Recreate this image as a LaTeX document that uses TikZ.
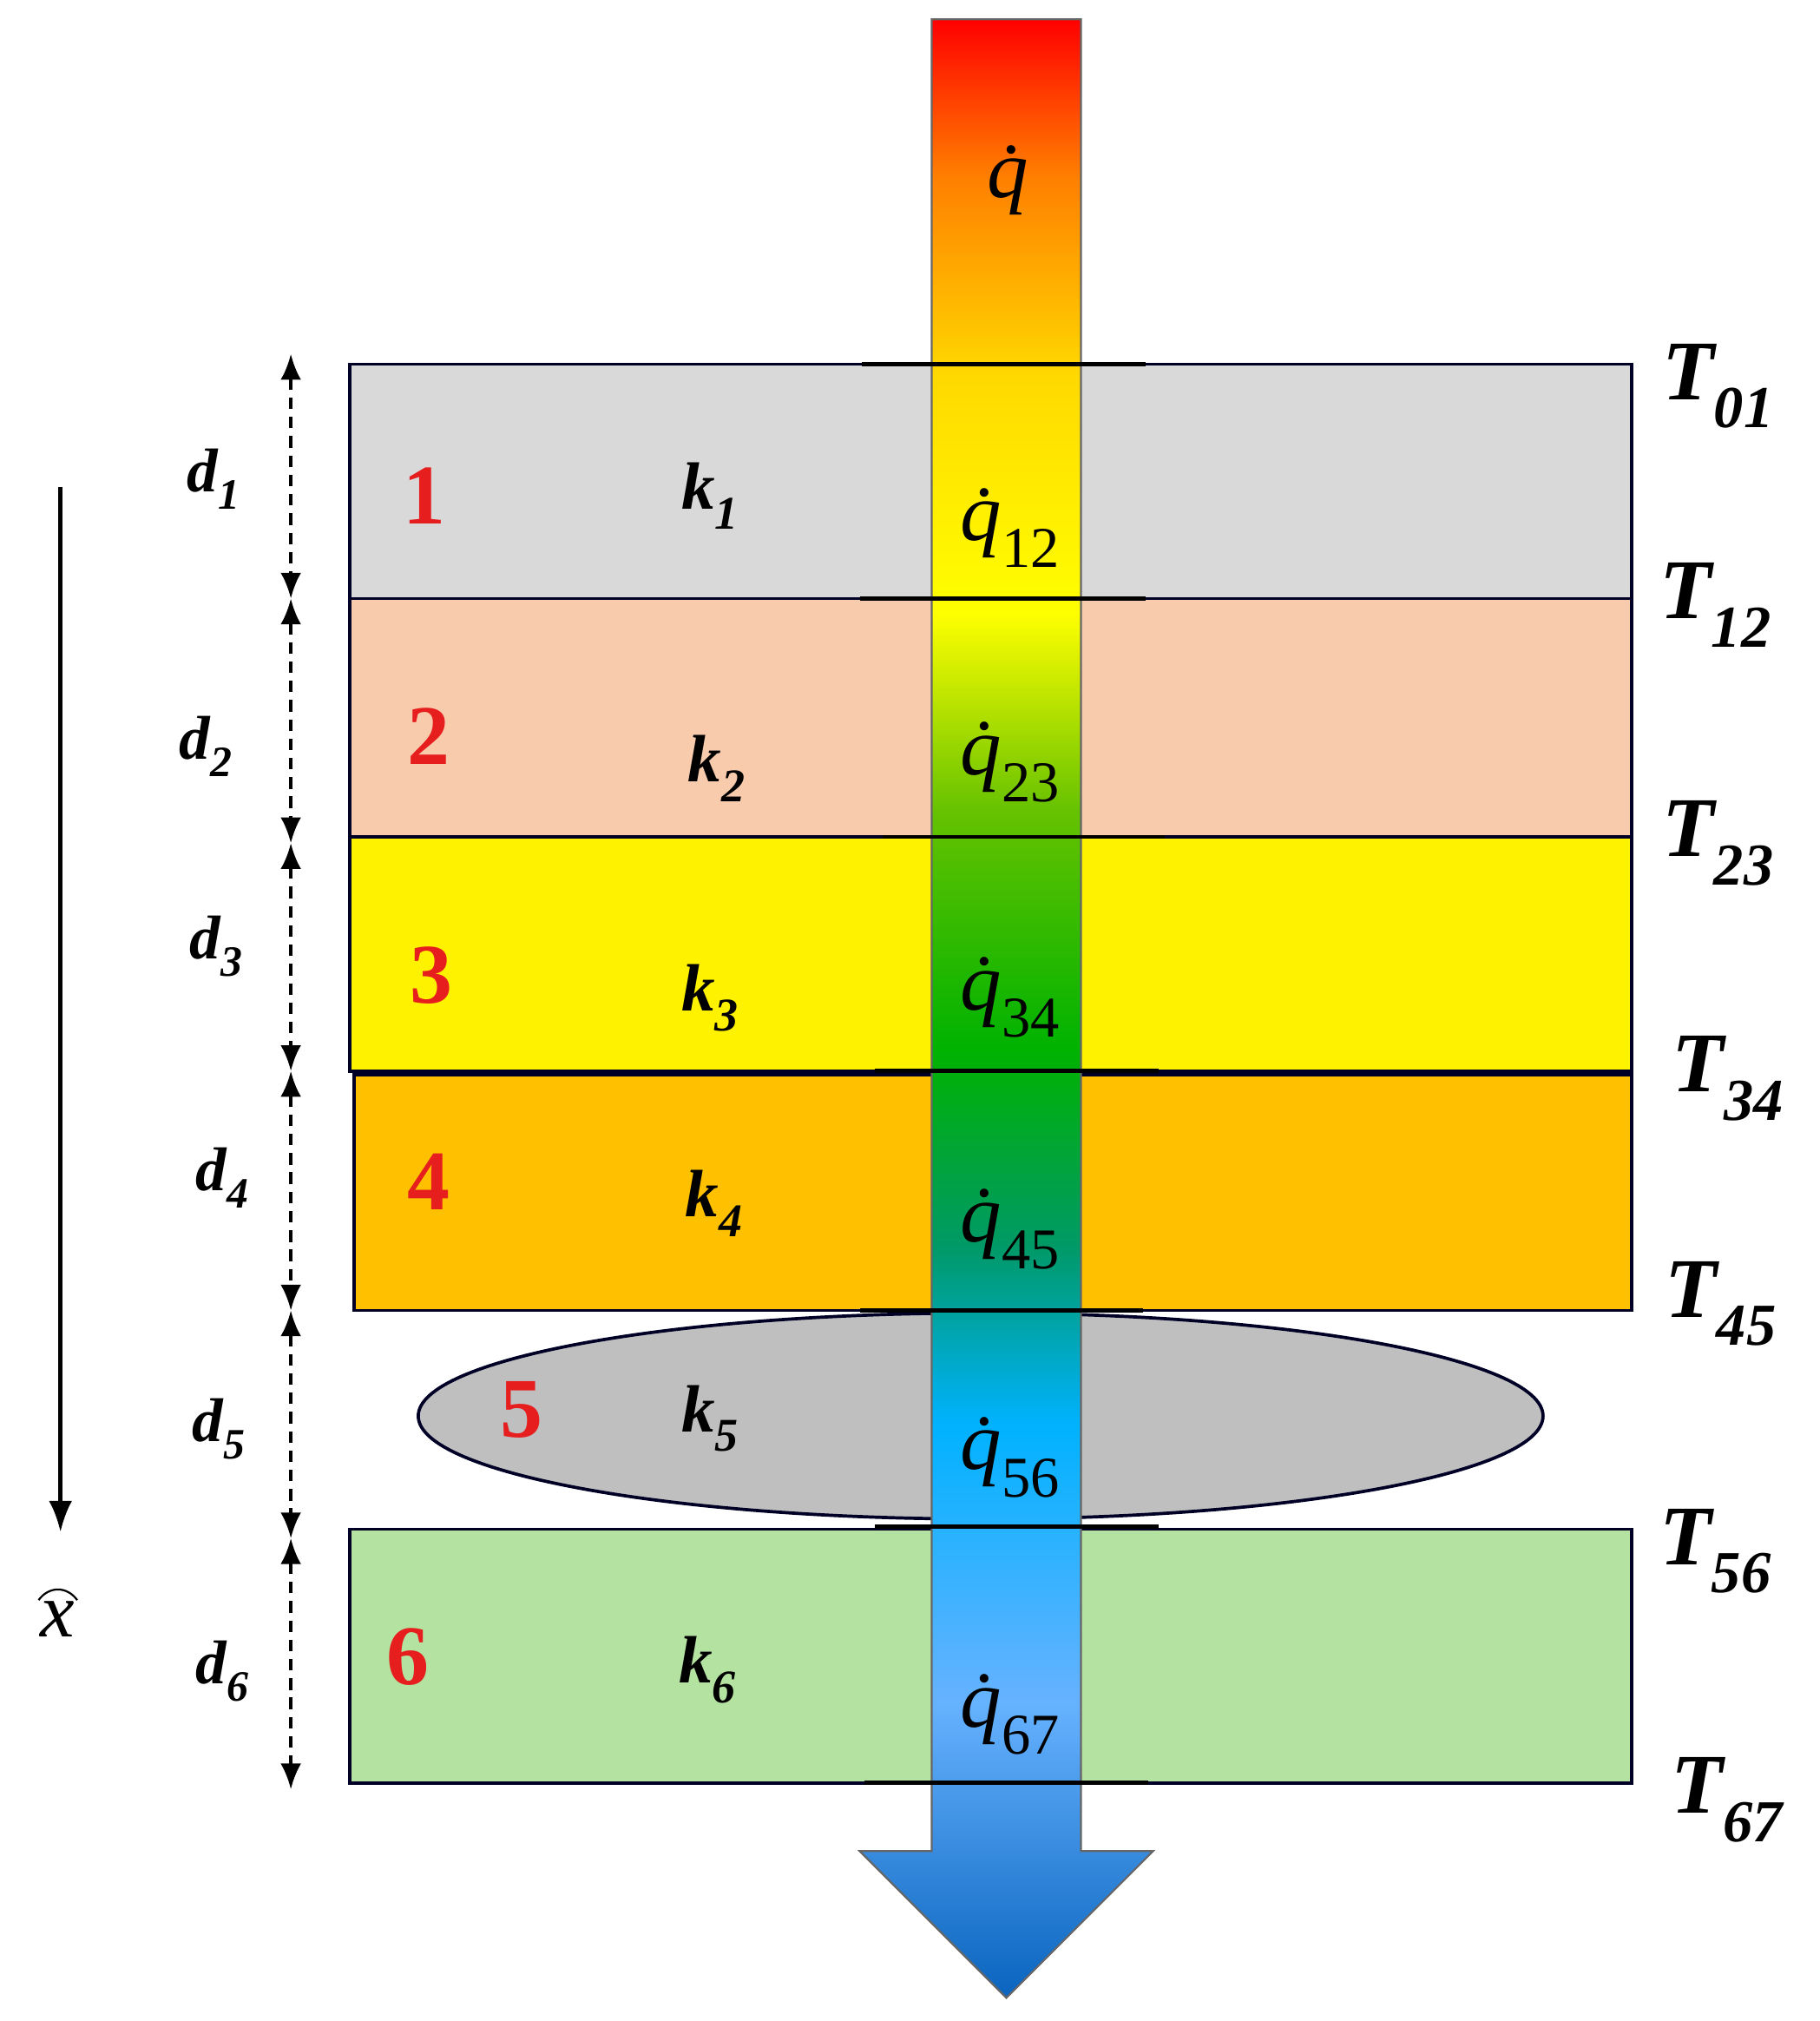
\documentclass[tikz,border=0pt]{standalone}
\usepackage{fontspec}
\setmainfont{Liberation Serif}
\usetikzlibrary{arrows.meta}
\definecolor{redn}{RGB}{230,30,30}
\definecolor{botblue}{RGB}{10,100,190}
\pgfdeclareverticalshading{heat}{100bp}{color(0bp)=(botblue); color(25bp)=(botblue); color(32.5bp)=(cyan!50!blue!60!white); color(39.5bp)=(cyan!70!blue); color(44bp)=(teal!80!green); color(49bp)=(green!70!black); color(55bp)=(green!60!black!60!yellow); color(60bp)=(yellow); color(66bp)=(yellow!70!orange); color(71bp)=(orange); color(75bp)=(red); color(100bp)=(red)}
\tikzset{
 layer/.style={draw=black!85!blue, line width=2.5pt},
 dim/.style={dash pattern=on 9pt off 6pt, line width=2.5pt, {Latex[length=20pt,width=16pt]}-{Latex[length=20pt,width=16pt]}},
 tl/.style={font=\fontsize{66}{70}\selectfont\bfseries\itshape, anchor=center},
 dl/.style={font=\fontsize{48}{52}\selectfont\bfseries\itshape},
 kl/.style={font=\fontsize{52}{56}\selectfont\bfseries\itshape},
 nl/.style={font=\fontsize{66}{70}\selectfont\bfseries, text=redn},
 ql/.style={font=\fontsize{64}{68}\selectfont\itshape},
}
\newcommand{\qd}{\.{q}}
\begin{document}
\begin{tikzpicture}[x=1pt,y=-1pt]
\useasboundingbox (0,0) rectangle (1414,1570);
\fill[white] (0,0) rectangle (1414,1570);
\draw[layer, fill={rgb,255:red,217;green,217;blue,217}] (272,283) rectangle (1268,465);
\draw[layer, fill={rgb,255:red,248;green,203;blue,173}] (272,465) rectangle (1268,650);
\draw[layer, fill=yellow] (272,650) rectangle (1268,832);
\draw[layer, fill={rgb,255:red,255;green,192;blue,0}] (275,835) rectangle (1268,1018);
\draw[layer, fill={rgb,255:red,191;green,191;blue,191}] (762,1100) ellipse (437 and 80);
\draw[layer, fill={rgb,255:red,180;green,226;blue,160}] (272,1188) rectangle (1268,1385);
\shade[shading=heat, draw=black!60, line width=1.5pt] (724,15) -- (840,15) -- (840,1438) -- (896,1438) -- (782,1552) -- (668,1438) -- (724,1438) -- cycle;
\foreach \y/\a/\b in {283/670/890,465/668/890,650/686/905,832/680/900,1018/668/888,1186/680/900,1385/672/892}
  \draw[line width=3pt] (\a,\y) -- (\b,\y);
\foreach \a/\b in {275/465,465/655,655/832,832/1018,1018/1195,1195/1390}
  \draw[dim] (226,\a) -- (226,\b);
\draw[line width=3pt,-{Latex[length=24pt,width=18pt]}] (47,378) -- (47,1190);
\node[font=\fontsize{60}{64}\selectfont\itshape] (xh) at (45,1258) {x};
\draw[line width=1.5pt] (30,1243) .. controls (38,1232) and (52,1232) .. (60,1243);
\node[ql] (q0) at (783,140) {\qd};
\foreach \lab/\y in {12/410,23/592,34/775,45/955,56/1132,67/1332}
  \node[ql] (q\lab) at (785,\y) {\qd\textsubscript{\upshape\lab}};
\foreach \i/\y/\x in {1/385/330,2/572/333,3/758/335,4/918/333,5/1095/405,6/1287/317}
  \node[nl] (n\i) at (\x,\y) {\i};
\foreach \i/\y/\x in {1/385/552,2/597/557,3/775/552,4/935/555,5/1102/552,6/1297/550}
  \node[kl] (k\i) at (\x,\y) {k\textsubscript{\i}};
\foreach \i/\y/\x in {1/372/166,2/580/160,3/735/168,4/915/173,5/1110/170,6/1298/173}
  \node[dl] (d\i) at (\x,\y) {d\textsubscript{\i}};
\foreach \lab/\y/\x in {01/300/1335,12/470/1333,23/655/1335,34/838/1343,45/1013/1337,56/1205/1333,67/1398/1342}
  \node[tl] (T\lab) at (\x,\y) {T\textsubscript{\lab}};
\end{tikzpicture}
\end{document}
